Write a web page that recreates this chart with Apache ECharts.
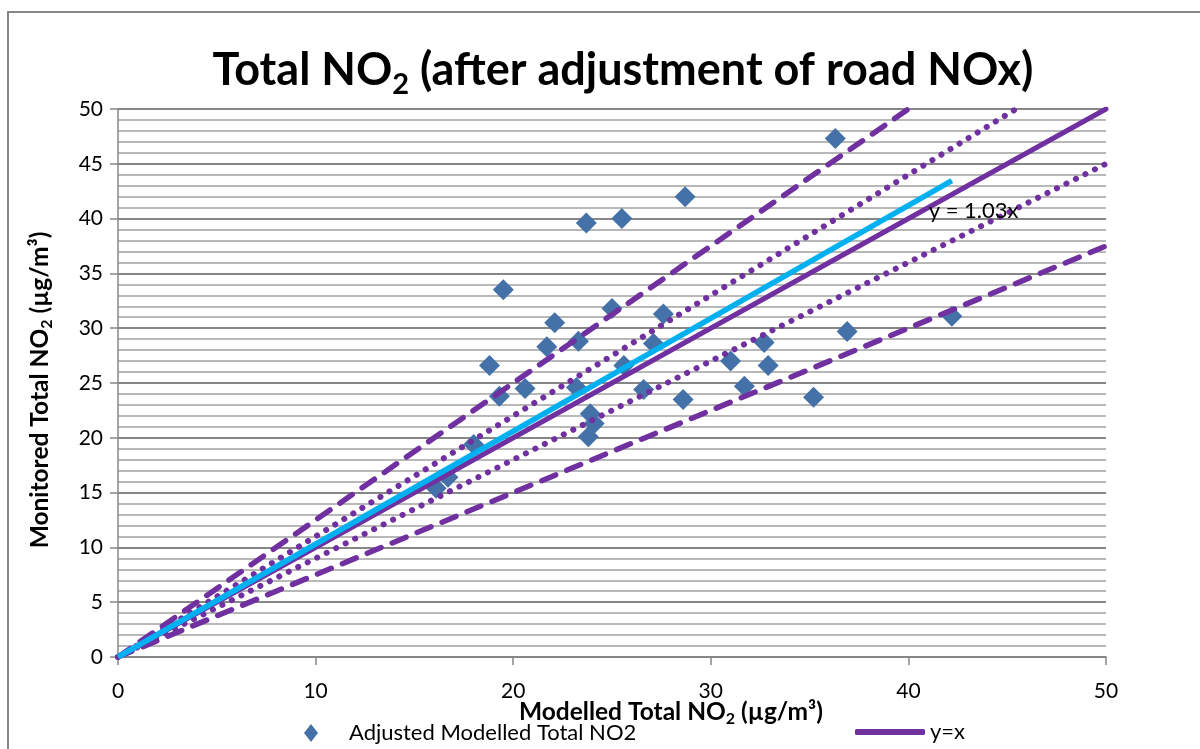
<!DOCTYPE html>
<html>
<head>
<meta charset="utf-8">
<script src="https://cdn.jsdelivr.net/npm/echarts@6/dist/echarts.min.js"></script>
<style>
html, body { margin: 0; padding: 0; background: #fff; }
#main { width: 1200px; height: 749px; }
</style>
</head>
<body>
<div id="main"></div>
<script>
// modelled (x) / monitored (y) pairs
var modelled = [36.3, 28.7, 23.7, 25.5, 19.5, 25.0, 27.6, 22.1, 21.7, 23.3, 27.1,
  18.8, 25.6, 31.0, 32.7, 32.9, 31.7, 36.9, 42.2, 19.3, 20.6, 23.2, 26.6, 28.6,
  35.2, 23.9, 24.1, 23.8, 18.0, 16.7, 16.1];
var monitored = [47.3, 42.0, 39.6, 40.0, 33.5, 31.8, 31.3, 30.5, 28.3, 28.8, 28.6,
  26.6, 26.6, 27.0, 28.7, 26.6, 24.7, 29.7, 31.1, 23.8, 24.5, 24.6, 24.4, 23.5,
  23.7, 22.2, 21.3, 20.1, 19.4, 16.4, 15.4];

// reference lines (end points)
var lineOneToOne = [[0, 0], [50, 50]];
var linePlus25 = [[0, 0], [40, 50]];
var lineMinus25 = [[0, 0], [50, 37.5]];
var linePlus10 = [[0, 0], [45.45, 50]];
var lineMinus10 = [[0, 0], [50, 45]];
var trendLine = [[0, 0], [42.2, 43.47]];
var trendLabelPos = [[41.0, 40.7]];

var xTicks = [0, 10, 20, 30, 40, 50];
var yTicks = [0, 5, 10, 15, 20, 25, 30, 35, 40, 45, 50];

var font = "Lato";
var purple = "#7030A0";

var points = modelled.map(function (x, i) {
  return [x, monitored[i]];
});

var chart = echarts.init(document.getElementById("main"));

function refLine(name, data, type, width) {
  return {
    name: name,
    type: "line",
    data: data,
    symbol: "none",
    silent: true,
    z: 3,
    lineStyle: { color: purple, width: width, type: type, cap: "round" },
    itemStyle: { color: purple }
  };
}

var nameRich = {
  a: { fontFamily: font, fontWeight: "bold", fontSize: 24.5, color: "#000" },
  s: { fontFamily: font, fontWeight: "bold", fontSize: 16, color: "#000", padding: [13, 0, 0, 0] }
};

var option = {
  animation: false,
  backgroundColor: "#fff",
  title: {
    text: "{a|Total NO}{s|2}{a| (after adjustment of road NOx)}",
    left: 618,
    textAlign: "center",
    top: 37,
    textStyle: {
      rich: {
        a: { fontFamily: font, fontWeight: "bold", fontSize: 45, color: "#000" },
        s: { fontFamily: font, fontWeight: "bold", fontSize: 29, color: "#000", padding: [28, 0, 0, 0] }
      }
    }
  },
  graphic: [
    {
      type: "rect",
      silent: true,
      shape: { x: 8, y: 12, width: 1300, height: 800 },
      style: { fill: "none", stroke: "#878787", lineWidth: 2 }
    }
  ],
  legend: [
    {
      data: [{ name: "Adjusted Modelled Total NO2", icon: "diamond" }],
      left: 304,
      top: 722,
      padding: 0,
      itemWidth: 14,
      itemHeight: 18,
      textStyle: { fontFamily: font, fontSize: 22, color: "#000", padding: [0, 0, 0, 26] }
    },
    {
      data: [{ name: "y=x", icon: "roundRect" }],
      left: 855,
      top: 721,
      padding: 0,
      itemWidth: 70,
      itemHeight: 6,
      textStyle: { fontFamily: font, fontSize: 22, color: "#000" }
    }
  ],
  grid: {
    left: 118,
    right: 94,
    top: 109,
    bottom: 92,
    outerBoundsMode: "none"
  },
  xAxis: {
    type: "value",
    min: 0,
    max: 50,
    interval: 10,
    name: "{a|Modelled Total NO}{s|2}{a| (µg/m³)}",
    nameLocation: "middle",
    nameGap: 41,
    nameMoveOverlap: false,
    nameTextStyle: { padding: [0, 0, 0, 118], rich: nameRich },
    axisLine: { show: true, lineStyle: { color: "#878787", width: 1.5 } },
    axisTick: { show: true, length: 8, lineStyle: { color: "#878787", width: 1.5 } },
    axisLabel: {
      margin: 24,
      fontFamily: font,
      fontSize: 21,
      color: "#000",
      customValues: xTicks
    },
    splitLine: { show: false }
  },
  yAxis: {
    type: "value",
    min: 0,
    max: 50,
    interval: 5,
    name: "{a|Monitored Total NO}{s|2}{a| (µg/m³)}",
    nameLocation: "middle",
    nameGap: 63,
    nameMoveOverlap: false,
    nameTextStyle: { padding: [0, 14, 0, 0], rich: nameRich },
    axisLine: { show: true, lineStyle: { color: "#878787", width: 1.5 } },
    axisTick: { show: true, length: 8, lineStyle: { color: "#878787", width: 1.5 } },
    axisLabel: {
      margin: 15,
      fontFamily: font,
      fontSize: 21,
      color: "#000",
      customValues: yTicks
    },
    splitLine: { show: true, lineStyle: { color: "#868686", width: 2 } },
    minorTick: { show: false, splitNumber: 5 },
    minorSplitLine: { show: true, lineStyle: { color: "#B8B8B8", width: 2 } }
  },
  series: [
    {
      name: "Adjusted Modelled Total NO2",
      type: "scatter",
      data: points,
      symbol: "diamond",
      symbolSize: 21,
      z: 2,
      itemStyle: { color: "#4472A8", opacity: 1 }
    },
    refLine("upper25", linePlus25, [15, 12], 5.5),
    refLine("lower25", lineMinus25, [15, 12], 5.5),
    refLine("upper10", linePlus10, [0.1, 10.5], 6),
    refLine("lower10", lineMinus10, [0.1, 10.5], 6),
    refLine("y=x", lineOneToOne, "solid", 5),
    {
      name: "trend",
      type: "line",
      data: trendLine,
      symbol: "none",
      silent: true,
      z: 4,
      lineStyle: { color: "#00B0F0", width: 5.5 }
    },
    {
      name: "trendLabel",
      type: "scatter",
      data: trendLabelPos,
      symbolSize: 1,
      silent: true,
      z: 10,
      itemStyle: { color: "transparent" },
      label: {
        show: true,
        position: "right",
        distance: 0,
        formatter: "y = 1.03x",
        fontFamily: font,
        fontSize: 22,
        color: "#000",
        opacity: 1
      }
    }
  ]
};

chart.setOption(option);
</script>
</body>
</html>
